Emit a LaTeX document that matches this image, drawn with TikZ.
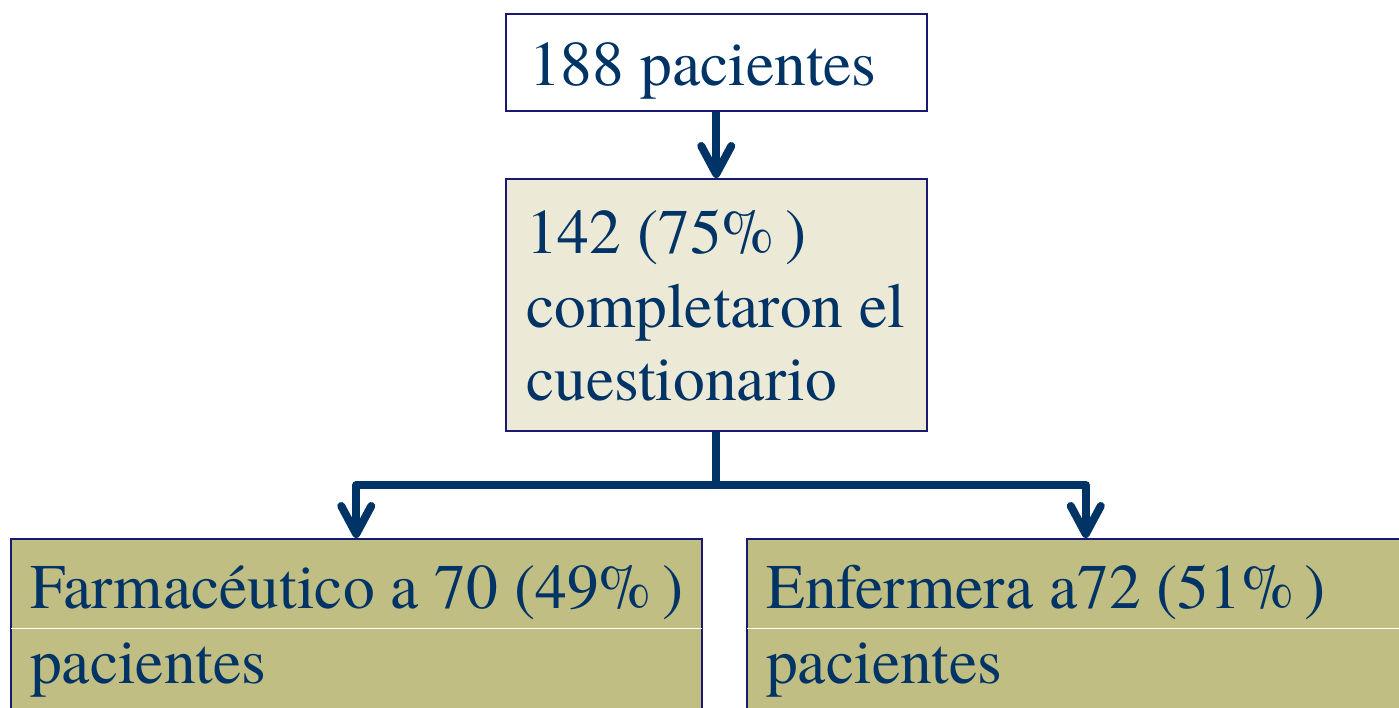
\documentclass[tikz,border=0pt]{standalone}
\usepackage{fontspec}
\newfontfamily\tnr{TeX Gyre Termes}
\usetikzlibrary{arrows.meta}
\definecolor{navy}{RGB}{0,51,102}
\definecolor{boxline}{RGB}{25,25,115}
\definecolor{beige}{RGB}{236,234,214}
\definecolor{olive}{RGB}{192,190,130}
\tikzset{
  box/.style={draw=boxline, line width=1.5pt, rectangle, inner sep=0pt, anchor=north west},
  txt/.style={anchor=base west, inner sep=0pt, text=navy, font=\tnr\fontsize{63.5}{74}\selectfont},
  conn/.style={draw=navy, line width=8pt},
  tip/.style={-{Straight Barb[length=28pt,width=30pt,round]}}
}
\begin{document}
\begin{tikzpicture}[x=1pt,y=-1pt]
\useasboundingbox (0,0) rectangle (1399,707);
\clip (0,0) rectangle (1399,707);
\fill[white] (0,0) rectangle (1399,707);
% boxes
\node[box, fill=white, minimum width=421pt, minimum height=97pt] (top) at (505,13) {};
\node[box, fill=beige, minimum width=421pt, minimum height=252pt] (mid) at (505,178) {};
\node[box, fill=olive, minimum width=691pt, minimum height=220pt] (left) at (10,538) {};
\node[box, fill=olive, minimum width=678pt, minimum height=220pt] (right) at (746,538) {};
% white separators
\draw[white, line width=1pt] ([xshift=1pt]left.west |- 0,628) -- ([xshift=-1pt]left.east |- 0,628);
\draw[white, line width=1pt] ([xshift=1pt]right.west |- 0,628) -- ([xshift=-1pt]right.east |- 0,628);
% texts
\node[txt] (t1) at (529,85) {188 pacientes};
\node[txt] (m1) at (526,253) {142 (75\%\,)};
\node[txt] (m2) at (526,327) {completaron el};
\node[txt] (m3) at (526,400) {cuestionario};
\node[txt] (l1) at (30,608) {Farmacéutico a 70 (49\%\,)};
\node[txt] (l2) at (30,683) {pacientes};
\node[txt] (r1) at (766,608) {Enfermera a72 (51\%\,)};
\node[txt] (r2) at (766,683) {pacientes};
% connectors
\coordinate (junc) at (mid.south |- 0,485);
\draw[conn, tip] (top.south) -- (mid.north);
\draw[conn] (mid.south) -- (junc);
\draw[conn, tip, line join=round] (junc) -| (left.north);
\draw[conn, tip, line join=round] (junc) -| (right.north);
\end{tikzpicture}
\end{document}
